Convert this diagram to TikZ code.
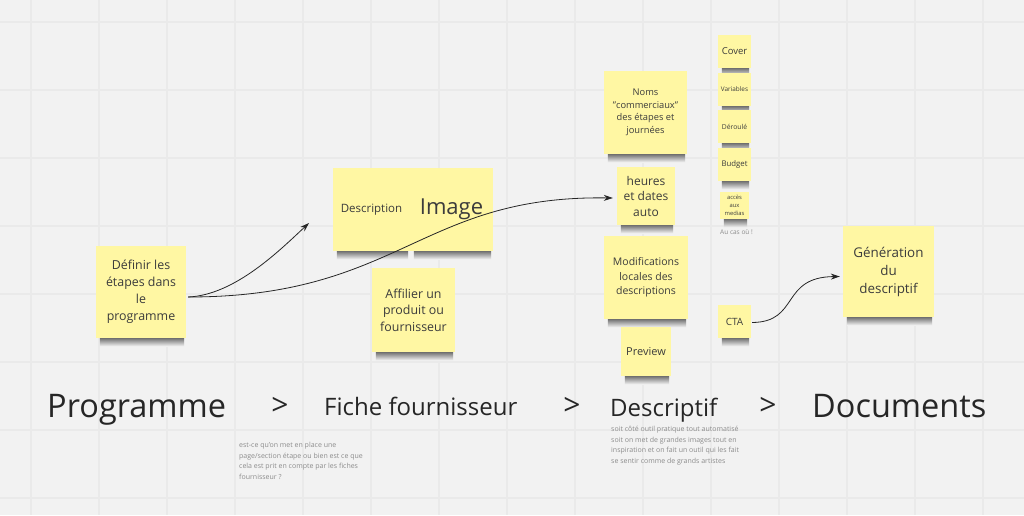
\documentclass[tikz,border=0pt]{standalone}
\usepackage{fontspec}
\setmainfont{Open Sans}
\usetikzlibrary{arrows.meta,calc}
\pgfdeclarelayer{bg}
\pgfsetlayers{bg,main}
\definecolor{bgc}{HTML}{F2F2F2}
\definecolor{gridc}{HTML}{EAEAEA}
\definecolor{notec}{HTML}{FFF7A3}
\definecolor{notetext}{HTML}{3C3C3C}
\definecolor{bigtext}{HTML}{262626}
\definecolor{smalltext}{HTML}{8C8C8C}
\definecolor{shc}{HTML}{505050}
\newcommand\fsz[2]{\fontsize{#1}{#2}\selectfont}
\begin{document}
\begin{tikzpicture}[x=1pt,y=-1pt,
  note/.style 2 args={fill=notec, draw=none, inner sep=0pt, align=center,
    text=notetext, minimum width=#1, minimum height=#2},
  biglabel/.style={inner sep=0pt, text=bigtext, anchor=base west},
  sep/.style={inner sep=0pt, text=bigtext, anchor=base, font=\fsz{30}{30}},
  remark/.style={inner sep=0pt, text=smalltext, anchor=north west, align=left},
  conn/.style={draw=black!85, line width=0.8pt, -{Stealth[length=9pt,width=6pt]}}]
\useasboundingbox (0,0) rectangle (1024,515);

% sticky notes
\node[note={90}{92}, font=\fsz{12.4}{17}] (def) at (141,292) {Définir les\\étapes dans\\le\\programme};
\node[note={77}{83}, font=\fsz{11.5}{14}] (desc) at (371.5,209.5) {Description};
\node[note={83}{83}, font=\fsz{22}{26}] (img) at (451.5,209.5) {Image};
\node[note={83}{84}, font=\fsz{12.4}{16.5}] (aff) at (413.5,310) {Affilier un\\produit ou\\fournisseur};
\node[note={83}{83}, font=\fsz{9.3}{12.5}] (noms) at (645.5,112.5) {Noms\\"commerciaux"\\des étapes et\\journées};
\node[note={58}{58}, font=\fsz{12}{15.5}] (heures) at (646,196) {heures\\et dates\\auto};
\node[note={84}{83}, font=\fsz{10.5}{14.5}] (modif) at (646,277.5) {Modifications\\locales des\\descriptions};
\node[note={50}{49}, font=\fsz{11}{13}] (prev) at (646,351.5) {Preview};
\node[note={33}{33}, font=\fsz{9.5}{11}] (cover) at (734.5,51.5) {Cover};
\node[note={33}{33}, font=\fsz{6.4}{8}] (vars) at (734.5,89.5) {Variables};
\node[note={33}{33}, font=\fsz{6.8}{8}] (der) at (734.5,126.5) {Déroulé};
\node[note={33}{33}, font=\fsz{7.8}{9}] (budget) at (734.5,164.5) {Budget};
\node[note={29}{27}, font=\fsz{5.8}{7.8}] (acces) at (734.5,205.5) {accès\\aux\\medias};
\node[note={33}{33}, font=\fsz{10}{12}] (cta) at (734.5,321.5) {CTA};
\node[note={91}{91}, font=\fsz{13.4}{18}] (gen) at (888.5,271.5) {Génération\\du\\descriptif};

% small texts
\node[remark, font=\fsz{6.5}{8}] (aucas) at (720,229) {Au cas où !};
\node[remark, font=\fsz{7}{10.5}] (rem1) at (239,442) {est-ce qu'on met en place une\\page/section étape ou bien est ce que\\cela est prit en compte par les fiches\\fournisseur ?};
\node[remark, font=\fsz{7}{10.7}] (rem2) at (611,426) {soit côté outil pratique tout automatisé\\soit on met de grandes images tout en\\inspiration et on fait un outil qui les fait\\se sentir comme de grands artistes};

% big labels
\node[biglabel, font=\fsz{32.5}{33}] (lprog) at (47,417) {Programme};
\node[sep] (gt1) at (280,415) {>};
\node[biglabel, font=\fsz{24}{24}] (lfiche) at (324,415) {Fiche fournisseur};
\node[sep] (gt2) at (572,415) {>};
\node[biglabel, font=\fsz{24}{24}] (ldesc) at (610,416) {Descriptif};
\node[sep] (gt3) at (768,415) {>};
\node[biglabel, font=\fsz{32.5}{33}] (ldoc) at (812,417) {Documents};

% connectors
\coordinate (p1) at ([shift={(2,5)}]def.east);
\coordinate (a1end) at (309,223);
\coordinate (p2) at ([shift={(-4,2)}]heures.west);
\coordinate (p3) at ([shift={(1,1)}]cta.east);
\coordinate (p4) at ([shift={(-3,5)}]gen.west);
\draw[conn] (p1) .. controls (235,295) and (280,250) .. (a1end);
\draw[conn] (p1) .. controls (400,297) and (420,195) .. (p2);
\draw[conn] (p3) .. controls (800,322) and (780,277) .. (p4);

% background, grid, shadows
\begin{pgfonlayer}{bg}
  \fill[bgc] (0,0) rectangle (1024,515);
  \foreach \k in {0,...,14} {
    \draw[gridc, line width=1.2pt] ({31+68*\k},0) -- ({31+68*\k},515);
  }
  \foreach \k in {0,...,7} {
    \draw[gridc, line width=1.2pt] (0,{22+68*\k}) -- (1024,{22+68*\k});
  }
  \foreach \n in {def,desc,img,aff,noms,heures,modif,prev,cover,vars,der,budget,acces,cta,gen} {
    \shade[top color=black!55, bottom color=bgc] ([xshift=4pt]\n.south west) rectangle ([xshift=-2pt,yshift=-8pt]\n.south east);
  }
\end{pgfonlayer}
\end{tikzpicture}
\end{document}
